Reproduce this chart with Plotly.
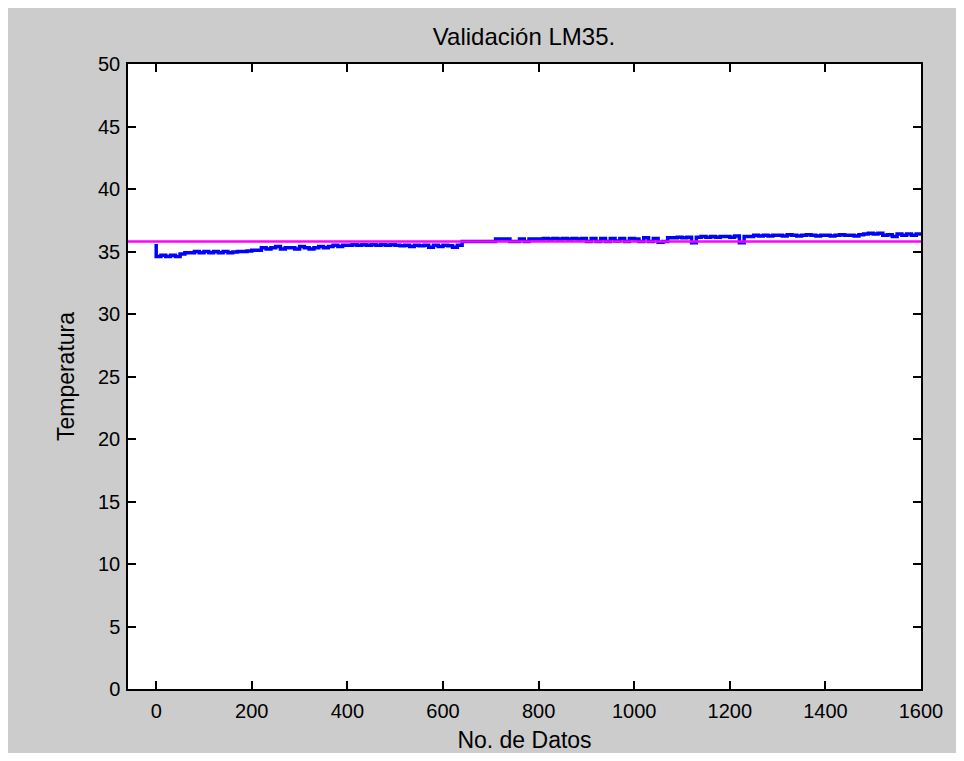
import numpy as np
import plotly.graph_objects as go

# Sample index (No. de Datos), every 10 samples
indices = list(range(0, 1601, 10))

# Temperature readings
temperatura = [
    35.6,
    34.6, 34.7, 34.6, 34.7, 34.6, 34.8, 34.9, 34.9, 35.0, 34.9,
    35.0, 34.9, 35.0, 34.9, 35.0, 34.9, 34.95, 35.0, 35.0, 35.05,
    35.1, 35.1, 35.3, 35.2, 35.3, 35.4, 35.2, 35.3, 35.3, 35.2,
    35.4, 35.3, 35.2, 35.3, 35.4, 35.3, 35.4, 35.5, 35.4, 35.5,
    35.5, 35.55, 35.5, 35.55, 35.5, 35.55, 35.5, 35.55, 35.5, 35.55,
    35.5, 35.45, 35.5, 35.4, 35.5, 35.45, 35.5, 35.35, 35.5, 35.4,
    35.5, 35.45, 35.35, 35.5, 35.8, 35.8, 35.8, 35.8, 35.8, 35.8,
    35.8, 36.0, 36.0, 36.0, 35.8, 35.8, 36.0, 35.8, 36.0, 36.0,
    36.0, 36.05, 36.0, 36.05, 36.0, 36.05, 36.0, 36.05, 36.0, 36.05,
    35.8, 36.05, 35.8, 36.05, 35.8, 36.05, 35.85, 36.05, 35.8, 36.05,
    36.0, 35.8, 36.1, 35.8, 36.05, 35.75, 35.8, 36.1, 36.1, 36.15,
    36.1, 36.15, 35.7, 36.15, 36.2, 36.15, 36.2, 36.15, 36.2, 36.2,
    36.15, 36.25, 35.7, 36.2, 36.2, 36.3, 36.25, 36.3, 36.25, 36.3,
    36.3, 36.25, 36.35, 36.3, 36.25, 36.3, 36.35, 36.3, 36.25, 36.3,
    36.3, 36.25, 36.3, 36.35, 36.3, 36.3, 36.25, 36.35, 36.4, 36.45,
    36.4, 36.45, 36.3, 36.35, 36.2, 36.4, 36.3, 36.4, 36.3, 36.4,
]

valor_referencia = 35.8

x_ticks = [0, 200, 400, 600, 800, 1000, 1200, 1400, 1600]
y_ticks = [0, 5, 10, 15, 20, 25, 30, 35, 40, 45, 50]

FONT = "Liberation Sans, Arial, sans-serif"
W, H = 948, 745

fig = go.Figure()
fig.add_trace(go.Scatter(
    x=indices, y=temperatura, mode="lines",
    line=dict(color="#0000ff", width=3.5, shape="vh"),
    showlegend=False, hoverinfo="skip",
))
fig.add_hline(y=valor_referencia, line=dict(color="#ff00ff", width=2.5), layer="above")

axis_common = dict(
    showgrid=False, zeroline=False, showline=True, linecolor="black", linewidth=1.5,
    mirror="ticks", ticks="inside", ticklen=8, tickwidth=1.5, tickcolor="black",
    tickfont=dict(family=FONT, size=20, color="black"), automargin=False,
)

fig.update_layout(
    width=W, height=H,
    paper_bgcolor="#cccccc", plot_bgcolor="white",
    margin=dict(l=120, r=35, t=56, b=64),
    title=dict(text="Validación LM35.", x=(524 - 8) / W, xanchor="center",
               y=1 - (37 - 8) / H, yanchor="middle",
               font=dict(family=FONT, size=24, color="black")),
    xaxis=dict(range=[-59, 1600], tickvals=x_ticks, ticktext=[str(v) for v in x_ticks],
               ticklabelstandoff=3,
               title=dict(text="No. de Datos", font=dict(family=FONT, size=23, color="black"), standoff=12),
               **axis_common),
    yaxis=dict(range=[0, 50], tickvals=y_ticks, ticktext=[str(v) for v in y_ticks],
               ticklabelstandoff=2,
               title=dict(text="Temperatura", font=dict(family=FONT, size=23, color="black"), standoff=17),
               **axis_common),
)

fig.write_html("out.html")
